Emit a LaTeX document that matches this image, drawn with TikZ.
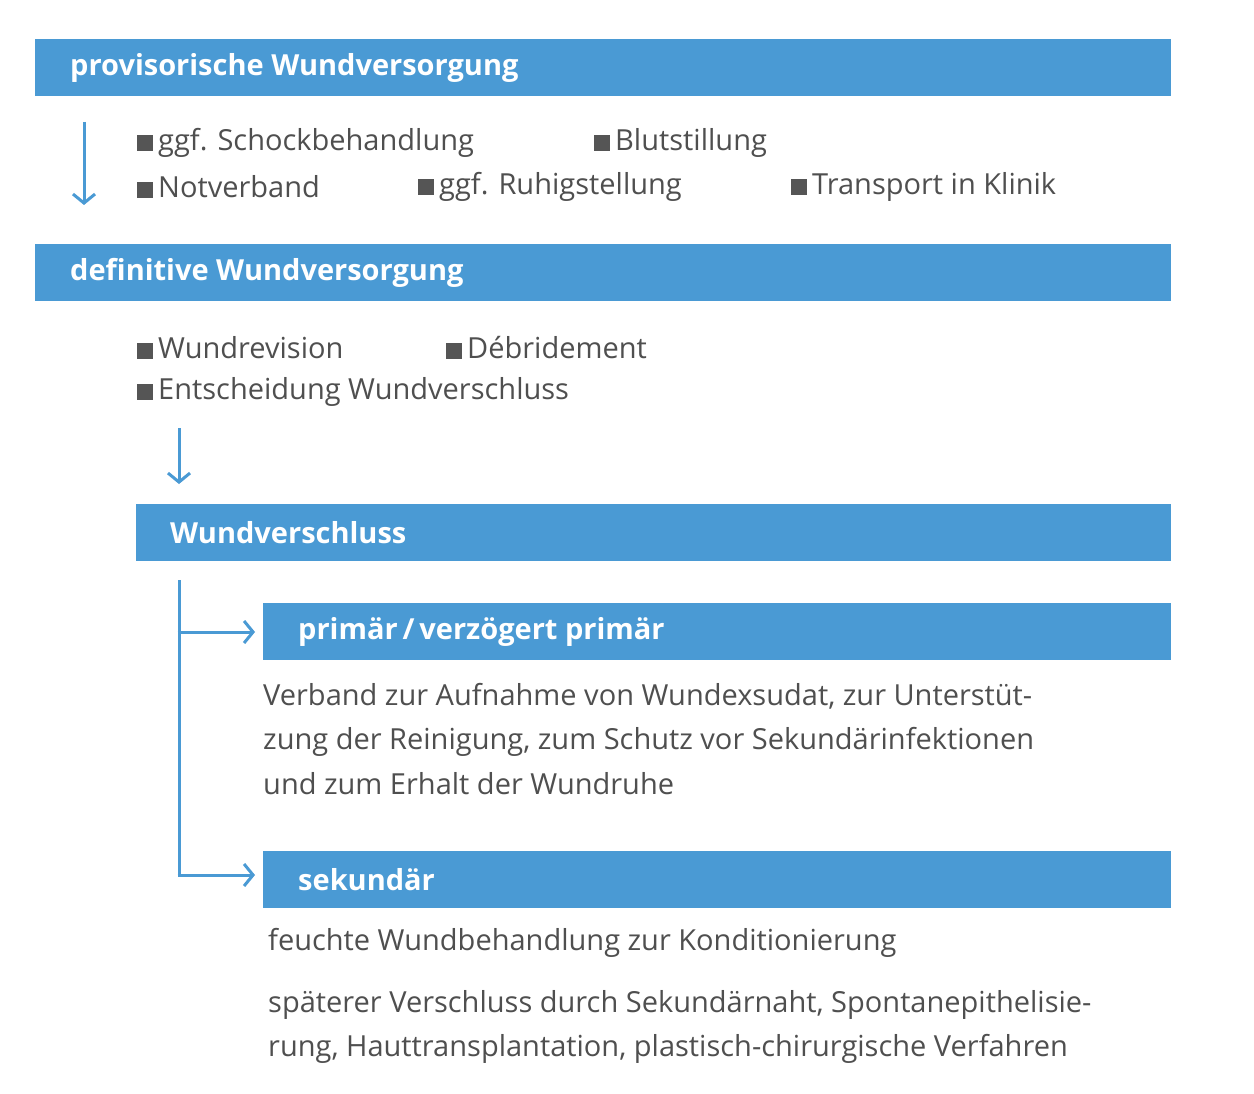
\documentclass[tikz,border=0pt]{standalone}
\usepackage{fontspec}
\setmainfont{Open Sans}
\usetikzlibrary{arrows.meta,positioning}
\definecolor{barblue}{HTML}{4A9AD4}
\definecolor{txtgray}{HTML}{4F4F4F}
\definecolor{bulgray}{HTML}{555555}
\tikzset{
  bar/.style={fill=barblue, draw=none, anchor=north west, minimum height=57pt,
    inner sep=0pt, text=white, font=\fontsize{29}{34}\selectfont\bfseries,
    align=left, text depth=0pt},
  item/.style={anchor=west, inner sep=0pt, text=txtgray, font=\fontsize{29}{34}\selectfont},
  para/.style={anchor=north west, inner sep=0pt, text=txtgray, align=left,
    font=\fontsize{29}{44.5}\selectfont},
  flow/.style={barblue, line width=3pt, -{Straight Barb[length=9pt,width=22pt,line width=3pt]}},
  flowline/.style={barblue, line width=3pt}
}
\newcommand{\bul}{\textcolor{bulgray}{\rule{16pt}{16pt}}\hspace{5pt}}
\begin{document}
\begin{tikzpicture}[x=1pt,y=-1pt]
  \useasboundingbox[fill=white] (0,0) rectangle (1254,1094);
  % bars
  \fill[barblue] (35,39) rectangle (1171,96);
  \node[item, text=white, font=\fontsize{29}{34}\selectfont\bfseries] (prov) at (70,68) {provisorische Wundversorgung};
  \fill[barblue] (35,244) rectangle (1171,301);
  \node[item, text=white, font=\fontsize{29}{34}\selectfont\bfseries] (defi) at (70,273) {definitive Wundversorgung};
  \fill[barblue] (136,504) rectangle (1171,561);
  \node[item, text=white, font=\fontsize{29}{34}\selectfont\bfseries] (versch) at (170,533) {Wundverschluss};
  \fill[barblue] (263,603) rectangle (1171,660);
  \node[item, text=white, font=\fontsize{29}{34}\selectfont\bfseries] (prim) at (298,632) {primär\,/\,verzögert primär};
  \fill[barblue] (263,851) rectangle (1171,908);
  \node[item, text=white, font=\fontsize{29}{34}\selectfont\bfseries] (sek) at (298,880) {sekundär};
  % items
  \node[item] (schock) at (137,143) {\bul ggf. Schockbehandlung};
  \node[item] (blut) at (594,143) {\bul Blutstillung};
  \node[item] (notv) at (137,187) {\bul Notverband};
  \node[item] (ruhig) at (418,187) {\bul ggf. Ruhigstellung};
  \node[item] (trans) at (791,187) {\bul Transport in Klinik};
  \node[item] (revis) at (137,348) {\bul Wundrevision};
  \node[item] (debri) at (446,348) {\bul Débridement};
  \node[item] (entsch) at (137,392) {\bul Entscheidung Wundverschluss};
  % paragraphs
  \node[para] (ptext) at (263,683) {Verband zur Aufnahme von Wundexsudat, zur Unterstüt-\\zung der Reinigung, zum Schutz vor Sekundärinfektionen\\und zum Erhalt der Wundruhe};
  \node[para] (stext1) at (268,928) {feuchte Wundbehandlung zur Konditionierung};
  \node[para] (stext2) at (268,990) {späterer Verschluss durch Sekundärnaht, Spontanepithelisie-\\rung, Hauttransplantation, plastisch-chirurgische Verfahren};
  % arrows
  \coordinate (a1) at (84,122); \coordinate (a1e) at (84,205);
  \draw[flow] (a1) -- (a1e);
  \coordinate (a2) at (179,428); \coordinate (a2e) at (179,484);
  \draw[flow] (a2) -- (a2e);
  \coordinate (top) at (179,580); \coordinate (bp) at (179,632); \coordinate (bs) at (179,875);
  \draw[flowline] (top) -- (bs);
  \draw[flow] ([xshift=-1.5pt]bp) -- (255,632);
  \draw[flow] ([xshift=-1.5pt]bs) -- (255,875);
\end{tikzpicture}
\end{document}
